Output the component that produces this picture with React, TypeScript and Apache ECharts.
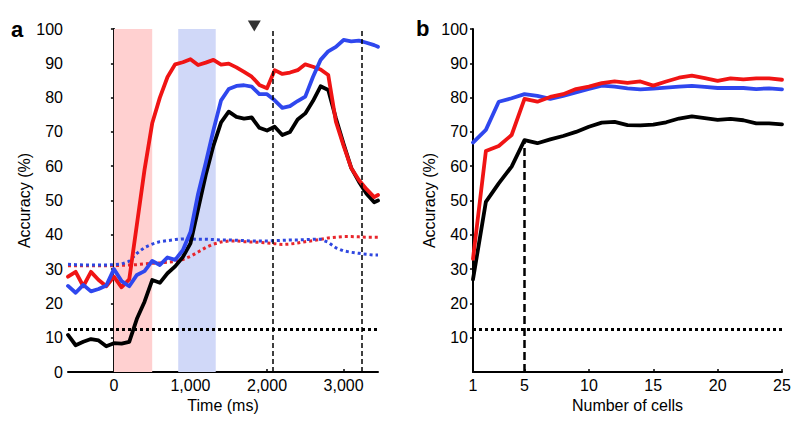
import React, { useEffect, useRef } from "react";
import * as echarts from "echarts";

// ---------- Panel a data ----------
const timesMs = [
  -600, -500, -400, -300, -200, -100, 0, 100, 200, 300, 400, 500, 600, 700, 800, 900,
  1000, 1100, 1200, 1300, 1400, 1500, 1600, 1700, 1800, 1900, 2000, 2100, 2200, 2300,
  2400, 2500, 2600, 2700, 2800, 2900, 3000, 3100, 3200, 3300, 3400, 3450,
];
const redA = [
  27.8, 29.2, 25, 29.2, 26.8, 25, 27.8, 24.7, 27, 43, 59, 72.5, 80, 86, 89.7, 90.3,
  91.2, 89.5, 90.2, 91, 89.6, 89.9, 88.8, 87.5, 86.1, 83.7, 82.7, 88, 86.9, 87.3,
  88, 89.7, 89, 88.2, 86.6, 73, 66, 59.5, 56, 53.3, 51, 51.6,
];
const blueA = [
  25.1, 23.1, 25.4, 23.5, 24.2, 25.2, 30, 26.5, 25, 28.3, 29.4, 32.4, 31.2, 33.4, 32.7, 35.5,
  40.8, 52, 61, 70.5, 79.2, 82.5, 83.4, 83.6, 83.2, 81, 81, 79.2, 77, 77.5,
  79, 80.3, 86, 91, 93.5, 94.8, 96.8, 96.4, 96.6, 96, 95.3, 94.8,
];
const blackA = [
  10.8, 7.8, 8.8, 9.6, 9.2, 7.5, 8.4, 8.3, 8.8, 15.5, 20.5, 26.8, 26, 28.8, 30.8, 33.5,
  37.5, 47.5, 57.5, 66, 72.8, 75.9, 74.4, 73.9, 74.2, 71.2, 70.4, 71.5, 69.1, 70,
  73.6, 75.4, 79, 83.3, 82.2, 74, 66.5, 59.5, 55.5, 52, 49.5, 50,
];
const redDotA = [
  31, 31, 31, 31, 31, 31, 31, 31.1, 31.2, 31.3, 31.5, 31.7, 31.8, 32, 32.2, 32.8,
  33.7, 35, 36.3, 37.3, 37.9, 38.2, 38.2, 38, 37.9, 37.8, 37.6, 37.4, 37.2, 37.3,
  37.6, 38, 38.3, 38.7, 39.1, 39.3, 39.5, 39.5, 39.4, 39.3, 39.3, 39.3,
];
const blueDotA = [
  31.4, 31.3, 31.2, 31.2, 31.2, 31.2, 31.3, 31.5, 32.3, 34.6, 36.3, 37.3, 38, 38.3, 38.6, 38.8,
  38.8, 38.7, 38.7, 38.6, 38.5, 38.5, 38.4, 38.3, 38.2, 38.2, 38.2, 38.3, 38.4, 38.5,
  38.5, 38.6, 38.7, 38.7, 37.8, 36.2, 35.3, 34.9, 34.6, 34.3, 34.1, 34.1,
];
const timeTicks = [0, 1000, 2000, 3000];
const pinkBand = [0, 500];
const blueBand = [840, 1330];
const eventLines = [2075, 3240];
const markerTime = 1834;
const chanceLevel = 12.5;

// ---------- Panel b data ----------
const cells = [1, 2, 3, 4, 5, 6, 7, 8, 9, 10, 11, 12, 13, 14, 15, 16, 17, 18, 19, 20, 21, 22, 23, 24, 25];
const redB = [
  33, 64.4, 65.9, 69.1, 79.6, 78.8, 80.2, 81, 82.5, 83.2, 84.2, 84.7, 84.3, 84.7, 83.5,
  84.7, 85.8, 86.4, 85.7, 84.9, 85.6, 85.3, 85.6, 85.6, 85.2,
];
const blueB = [
  66.9, 70.6, 78.8, 79.8, 81, 80.5, 79.6, 80.5, 81.5, 82.5, 83.5, 83.2, 82.7, 82.4, 82.6,
  82.9, 83.2, 83.4, 83.1, 82.8, 82.8, 82.8, 82.5, 82.7, 82.4,
];
const blackB = [
  27, 49.6, 55, 59.9, 67.6, 66.7, 67.8, 68.8, 70, 71.5, 72.7, 72.9, 72, 71.9, 72.1,
  72.8, 73.9, 74.5, 74, 73.5, 73.8, 73.4, 72.5, 72.5, 72.2,
];
const cellTicks = [1, 5, 10, 15, 20, 25];
const cellMark = 5;
const yTicksA = [0, 10, 20, 30, 40, 50, 60, 70, 80, 90, 100];
const yTicksB = [10, 20, 30, 40, 50, 60, 70, 80, 90, 100];

const FONT = "'Liberation Sans', Arial, Helvetica, sans-serif";
const RED = "#f01414";
const BLUE = "#2f47ee";
const BLACK = "#000000";

export default function App() {
  const ref = useRef<HTMLDivElement>(null);

  useEffect(() => {
    if (!ref.current) return;
    const chart = echarts.init(ref.current, null, { renderer: "svg" });

    const pair = (xs: number[], ys: number[]) => xs.map((x, i) => [x, ys[i]]);
    const solid = (color: string) => ({ color, width: 3.8, cap: "round", join: "round" });
    const dotted = (color: string) => ({ color, width: 3, type: [3, 3] as number[] });

    const yAxisBase = (gridIndex: number, ticks: number[]) => ({
      type: "value",
      gridIndex,
      min: 0,
      max: 100,
      interval: 10,
      name: "Accuracy (%)",
      nameLocation: "middle",
      nameGap: 33,
      nameTextStyle: { fontFamily: FONT, fontSize: 16, color: "#000" },
      axisLine: { show: true, lineStyle: { color: "#000", width: 2 } },
      axisTick: { show: true, inside: false, length: 3, lineStyle: { color: "#000", width: 1.5 }, customValues: ticks },
      axisLabel: { fontFamily: FONT, fontSize: 16, color: "#000", margin: 5, customValues: ticks },
      splitLine: { show: false },
    });

    const option: any = {
      animation: false,
      backgroundColor: "#fff",
      grid: [
        { left: 68, right: 422, top: 29, bottom: 59 },
        { left: 473, right: 18, top: 29, bottom: 59 },
      ],
      xAxis: [
        {
          type: "value",
          gridIndex: 0,
          min: -600,
          max: 3450,
          name: "Time (ms)",
          nameLocation: "middle",
          nameGap: 21,
          nameTextStyle: { fontFamily: FONT, fontSize: 16, color: "#000" },
          axisLine: { show: true, onZero: false, lineStyle: { color: "#000", width: 2 } },
          axisTick: { show: true, inside: true, length: 3, lineStyle: { color: "#000", width: 1.5 }, customValues: timeTicks },
          axisLabel: {
            fontFamily: FONT,
            fontSize: 16,
            color: "#000",
            margin: 5,
            customValues: timeTicks,
            formatter: (v: number) => v.toLocaleString("en-US"),
          },
          splitLine: { show: false },
        },
        {
          type: "value",
          gridIndex: 1,
          min: 1,
          max: 25,
          name: "Number of cells",
          nameLocation: "middle",
          nameGap: 21,
          nameTextStyle: { fontFamily: FONT, fontSize: 16, color: "#000" },
          axisLine: { show: true, onZero: false, lineStyle: { color: "#000", width: 2 } },
          axisTick: { show: true, inside: true, length: 3, lineStyle: { color: "#000", width: 1.5 }, customValues: cellTicks },
          axisLabel: { fontFamily: FONT, fontSize: 16, color: "#000", margin: 5, customValues: cellTicks },
          splitLine: { show: false },
        },
      ],
      yAxis: [yAxisBase(0, yTicksA), yAxisBase(1, yTicksB)],
      graphic: [
        { type: "text", left: 11, top: 18, style: { text: "a", fontFamily: FONT, fontSize: 22, fontWeight: "bold", fill: "#000" } },
        { type: "text", left: 416, top: 17, style: { text: "b", fontFamily: FONT, fontSize: 22, fontWeight: "bold", fill: "#000" } },
      ],
      series: [
        {
          type: "line",
          xAxisIndex: 0,
          yAxisIndex: 0,
          z: 1,
          silent: true,
          showSymbol: false,
          data: pair(timesMs, blackA),
          lineStyle: { width: 0, opacity: 0 },
          markArea: {
            silent: true,
            data: [
              [{ xAxis: pinkBand[0], itemStyle: { color: "#ffd0d0" } }, { xAxis: pinkBand[1] }],
              [{ xAxis: blueBand[0], itemStyle: { color: "#d0d8f8" } }, { xAxis: blueBand[1] }],
            ],
          },
          markLine: {
            silent: true,
            symbol: "none",
            label: { show: false },
            data: [
              { xAxis: eventLines[0], lineStyle: { color: "#000", width: 1.5, type: [5, 3] } },
              { xAxis: eventLines[1], lineStyle: { color: "#000", width: 1.5, type: [5, 3] } },
              { yAxis: chanceLevel, lineStyle: { color: "#000", width: 3, type: [3, 3] } },
            ],
          },
        },
        { type: "line", xAxisIndex: 0, yAxisIndex: 0, z: 3, showSymbol: false, silent: true, data: pair(timesMs, redDotA), lineStyle: dotted("#e8262c") },
        { type: "line", xAxisIndex: 0, yAxisIndex: 0, z: 3, showSymbol: false, silent: true, data: pair(timesMs, blueDotA), lineStyle: dotted("#2f47e0") },
        { type: "line", xAxisIndex: 0, yAxisIndex: 0, z: 4, showSymbol: false, silent: true, data: pair(timesMs, blackA), lineStyle: solid(BLACK) },
        { type: "line", xAxisIndex: 0, yAxisIndex: 0, z: 4, showSymbol: false, silent: true, data: pair(timesMs, redA), lineStyle: solid(RED) },
        { type: "line", xAxisIndex: 0, yAxisIndex: 0, z: 4, showSymbol: false, silent: true, data: pair(timesMs, blueA), lineStyle: solid(BLUE) },
        {
          type: "scatter",
          xAxisIndex: 0,
          yAxisIndex: 0,
          z: 5,
          silent: true,
          clip: false,
          symbol: "triangle",
          symbolRotate: 180,
          symbolSize: [13, 11],
          itemStyle: { color: "#000" },
          data: [[markerTime, 100.9]],
        },
        {
          type: "line",
          xAxisIndex: 1,
          yAxisIndex: 1,
          z: 1,
          silent: true,
          showSymbol: false,
          data: pair(cells, blackB),
          lineStyle: { width: 0, opacity: 0 },
          markLine: {
            silent: true,
            symbol: "none",
            label: { show: false },
            data: [
              [
                { coord: [cellMark, 0], lineStyle: { color: "#000", width: 2.5, type: [8, 4] } },
                { coord: [cellMark, blackB[cells.indexOf(cellMark)]] },
              ],
              { yAxis: chanceLevel, lineStyle: { color: "#000", width: 3, type: [3, 3] } },
            ],
          },
        },
        { type: "line", xAxisIndex: 1, yAxisIndex: 1, z: 4, showSymbol: false, silent: true, data: pair(cells, blackB), lineStyle: solid(BLACK) },
        { type: "line", xAxisIndex: 1, yAxisIndex: 1, z: 4, showSymbol: false, silent: true, data: pair(cells, blueB), lineStyle: solid(BLUE) },
        { type: "line", xAxisIndex: 1, yAxisIndex: 1, z: 4, showSymbol: false, silent: true, data: pair(cells, redB), lineStyle: solid(RED) },
      ],
    };

    chart.setOption(option);
    return () => chart.dispose();
  }, []);

  return <div ref={ref} style={{ width: 800, height: 431, position: "absolute", left: 0, top: 0 }} />;
}
